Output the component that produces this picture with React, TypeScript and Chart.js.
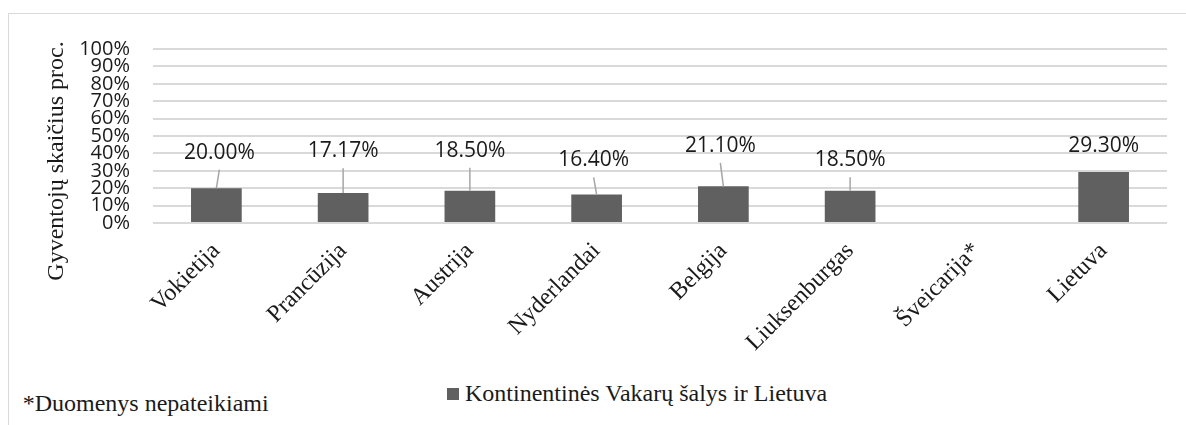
import React, { useEffect, useRef } from 'react';
import { Chart, registerables } from 'chart.js';

Chart.register(...registerables);

const categories: string[] = [
  'Vokietija',
  'Prancūzija',
  'Austrija',
  'Nyderlandai',
  'Belgija',
  'Liuksenburgas',
  'Šveicarija*',
  'Lietuva',
];
const seriesName = 'Kontinentinės Vakarų šalys ir Lietuva';
const values: (number | null)[] = [20.0, 17.17, 18.5, 16.4, 21.1, 18.5, null, 29.3];
const yMin = 0;
const yMax = 100;
const yStep = 10;
const axisTitle = 'Gyventojų skaičius proc.';
const footnote = '*Duomenys nepateikiami';

const BAR = '#606060';
const GRID = '#d9d9d9';
const TEXT = '#1a1a1a';
const SERIF = '"Liberation Serif", "Times New Roman", serif';
const SANS = '"Open Sans", sans-serif';

export default function App() {
  const ref = useRef<HTMLCanvasElement>(null);

  useEffect(() => {
    const canvas = ref.current;
    if (!canvas) return;

    // manual data-label placement (value-axis units), like dragged Excel labels
    const labelLayout = {
      levels: [40.4, 41.3, 41.5, 36, 44.3, 36, null, 44] as (number | null)[],
      dx: [3, 0, 0, -3, -3, 0, 0, 0],
    };

    const valueLabels = {
      id: 'valueLabels',
      afterDatasetsDraw(chart: any) {
        const { ctx } = chart;
        const meta = chart.getDatasetMeta(0);
        const ys = chart.scales.y;
        ctx.save();
        ctx.font = `21px ${SANS}`;
        ctx.fillStyle = TEXT;
        ctx.textAlign = 'center';
        ctx.textBaseline = 'middle';
        values.forEach((v, i) => {
          if (v == null) return;
          const el = meta.data[i];
          const lvl = labelLayout.levels[i];
          if (lvl == null) return;
          const lx = el.x + labelLayout.dx[i];
          const ly = ys.getPixelForValue(lvl);
          ctx.fillText(v.toFixed(2) + '%', lx, ly);
          const start = ly + 17;
          if (el.y - start > 12) {
            ctx.beginPath();
            ctx.strokeStyle = '#a6a6a6';
            ctx.lineWidth = 1.5;
            ctx.moveTo(lx, start);
            ctx.lineTo(el.x, el.y);
            ctx.stroke();
          }
        });
        ctx.restore();
      },
    };

    const yTitle = {
      id: 'yTitle',
      afterDraw(chart: any) {
        const { ctx } = chart;
        ctx.save();
        ctx.translate(53.5, 147);
        ctx.rotate(-Math.PI / 2);
        ctx.font = `24px ${SERIF}`;
        ctx.fillStyle = TEXT;
        ctx.textAlign = 'center';
        ctx.textBaseline = 'alphabetic';
        ctx.fillText(axisTitle, 0, 0);
        ctx.restore();
      },
    };

    const chart = new Chart(canvas, {
      type: 'bar',
      data: {
        labels: categories,
        datasets: [
          {
            label: seriesName,
            data: values,
            backgroundColor: BAR,
            borderWidth: 0,
            barPercentage: 0.4,
            categoryPercentage: 1,
          },
        ],
      },
      options: {
        responsive: false,
        devicePixelRatio: 1,
        animation: false,
        layout: { padding: { left: 0, right: 19, top: 29, bottom: 0 } },
        plugins: {
          legend: { display: false },
          tooltip: { enabled: false },
        },
        scales: {
          x: {
            grid: { display: false },
            border: { display: false },
            ticks: {
              autoSkip: false,
              maxRotation: 45,
              minRotation: 45,
              padding: 6,
              color: TEXT,
              font: { family: SERIF, size: 24 },
            },
            afterFit(scale: any) {
              scale.height = 131;
            },
          },
          y: {
            min: yMin,
            max: yMax,
            border: { display: false },
            grid: { color: GRID, lineWidth: 2, drawTicks: false },
            ticks: {
              stepSize: yStep,
              autoSkip: false,
              padding: 23,
              color: TEXT,
              font: { family: SANS, size: 20 },
              callback: (v: any) => `${v}%`,
            },
            afterFit(scale: any) {
              scale.width = 144;
            },
          },
        },
      },
      plugins: [valueLabels, yTitle],
    });

    return () => chart.destroy();
  }, []);

  return (
    <div
      style={{
        position: 'fixed',
        left: 0,
        top: 0,
        width: 1186,
        height: 425,
        overflow: 'hidden',
        background: '#fff',
      }}
    >
      <div
        style={{
          position: 'absolute',
          left: 8,
          top: 13,
          width: 1300,
          height: 500,
          border: '1.5px solid #d9d9d9',
        }}
      />
      <canvas
        ref={ref}
        width={1177}
        height={340}
        style={{ position: 'absolute', left: 9, top: 14, width: 1177, height: 340 }}
      />
      <div
        style={{
          position: 'absolute',
          left: 447,
          top: 388,
          width: 12,
          height: 12,
          background: BAR,
        }}
      />
      <div
        style={{
          position: 'absolute',
          left: 465,
          top: 380.6,
          fontFamily: SERIF,
          fontSize: 24,
          lineHeight: '24px',
          color: TEXT,
          whiteSpace: 'nowrap',
        }}
      >
        {seriesName}
      </div>
      <div
        style={{
          position: 'absolute',
          left: 22.7,
          top: 390.6,
          fontFamily: SERIF,
          fontSize: 24,
          lineHeight: '24px',
          color: TEXT,
          whiteSpace: 'nowrap',
        }}
      >
        {footnote}
      </div>
    </div>
  );
}
